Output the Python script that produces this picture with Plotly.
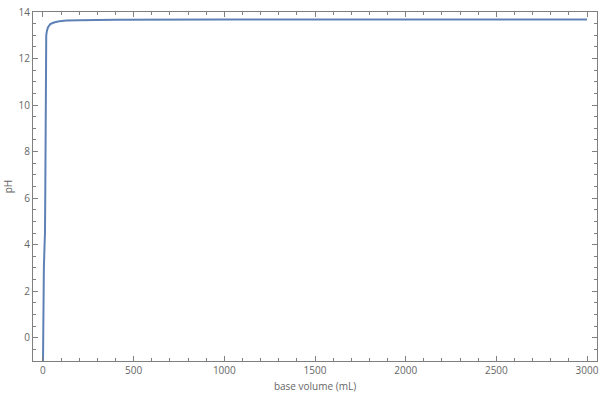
import plotly.graph_objects as go

# base volume added (mL) and resulting pH
base_volume = [0, 2, 5, 8, 11, 13, 15, 16.5, 18, 22, 28, 40, 60, 90, 130, 200, 400, 1000, 2000, 3000]
ph_values = [-1.2, 1.5, 3.0, 3.8, 4.5, 6.5, 10.5, 12.5, 13.0, 13.2, 13.35, 13.48, 13.55, 13.6, 13.63,
             13.65, 13.67, 13.68, 13.68, 13.68]

x_ticks = [0, 500, 1000, 1500, 2000, 2500, 3000]
y_ticks = [0, 2, 4, 6, 8, 10, 12, 14]

frame = '#7f7f7f'
label_col = '#666666'

fig = go.Figure()
fig.add_trace(go.Scatter(
    x=base_volume,
    y=ph_values,
    mode='lines',
    line=dict(color='#5e81b5', width=2),
    showlegend=False
))

axis_common = dict(
    showline=True, linecolor=frame, linewidth=1, mirror='allticks',
    ticks='inside', ticklen=5, tickwidth=1, tickcolor=frame,
    showgrid=False, zeroline=False, automargin=False,
    tickfont=dict(size=10, color=label_col, family='Open Sans'),
)

fig.update_xaxes(
    range=[-55, 3055], tickvals=x_ticks,
    minor=dict(dtick=100, ticklen=3, tickcolor=frame, ticks='inside'),
    title=dict(text='base volume (mL)', font=dict(size=10, color=label_col, family='Open Sans'), standoff=6),
    **axis_common
)
fig.update_yaxes(
    range=[-1, 14], tickvals=y_ticks,
    minor=dict(dtick=0.5, ticklen=3, tickcolor=frame, ticks='inside'),
    title=dict(text='pH', font=dict(size=10, color=label_col, family='Open Sans'), standoff=4),
    **axis_common
)

fig.update_layout(
    width=600, height=400,
    margin=dict(l=33, r=3, t=12, b=39),
    plot_bgcolor='white', paper_bgcolor='white',
)

# drop the default page margin so the figure sits at the window corner
fig.write_html("out.html", config={'displayModeBar': False},
               post_script="document.body.style.margin='0';")
